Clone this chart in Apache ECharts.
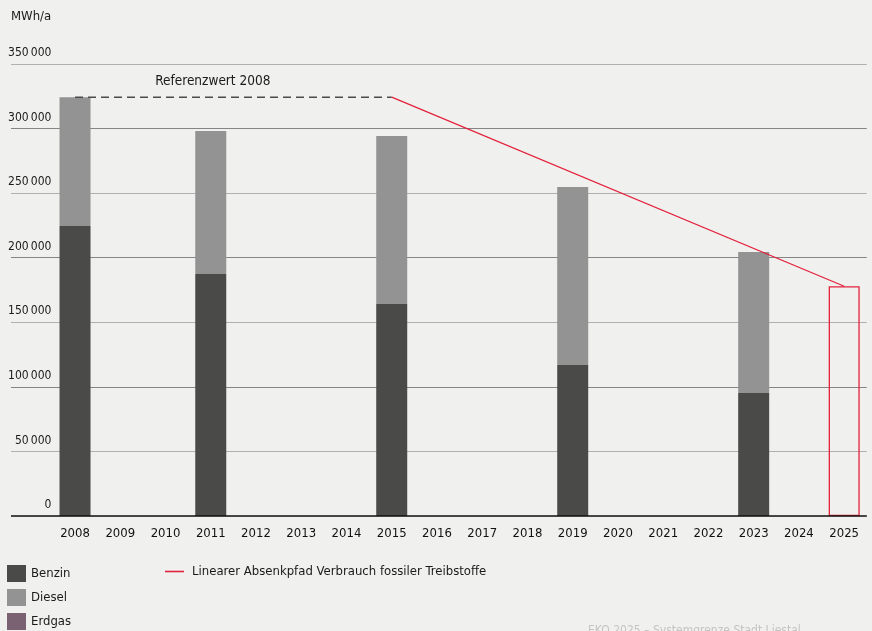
<!DOCTYPE html>
<html>
<head>
<meta charset="utf-8">
<script src="https://cdn.jsdelivr.net/npm/echarts@6/dist/echarts.min.js"></script>
<style>
  html, body { margin: 0; padding: 0; background: #f0f0ee; }
  #chart { width: 872px; height: 631px; }
</style>
</head>
<body>
<div id="chart"></div>
<script>
// Jahre der Kategorienachse
const years = ['2008','2009','2010','2011','2012','2013','2014','2015','2016','2017','2018','2019','2020','2021','2022','2023','2024','2025'];

// Verbrauch in MWh/a (nur Bilanzjahre besetzt)
const benzin = [224500, null, null, 187400, null, null, null, 164200, null, null, null, 116900, null, null, null, 95300, null, null];
const diesel = [99800, null, null, 110700, null, null, null, 130000, null, null, null, 137900, null, null, null, 109100, null, null];
const erdgas = [0, null, null, 0, null, null, null, 0, null, null, null, 0, null, null, null, 0, null, null];

// Referenzwert 2008 und Zielwert 2025
const referenz = [324300, null, null, null, null, null, null, 324300, null, null, null, null, null, null, null, null, null, null];
const absenkpfad = [null, null, null, null, null, null, null, 324300, null, null, null, null, null, null, null, null, null, 177900];
const ziel2025 = [null, null, null, null, null, null, null, null, null, null, null, null, null, null, null, null, null, 177900];

// Beschriftung der Werteachse
const yTicks = [0, 50000, 100000, 150000, 200000, 250000, 300000, 350000];

const FONT = '"Liberation Sans Narrow", "DejaVu Sans Condensed", "Roboto", sans-serif';
const fmt = v => v === 0 ? '0' : String(v).replace(/\B(?=(\d{3})+(?!\d))/g, '\u2009');

const chart = echarts.init(document.getElementById('chart'), null, { renderer: 'canvas' });

const TOP = 64, BOTTOM = 115;

chart.setOption({
  backgroundColor: '#f0f0ee',
  animation: false,
  textStyle: { fontFamily: FONT },
  grid: [
    { left: 52.4, right: 5.2, top: TOP, bottom: BOTTOM },
    { left: 11, right: 5.2, top: TOP, bottom: BOTTOM }
  ],
  xAxis: [
    {
      type: 'category', gridIndex: 0, data: years,
      axisLine: { show: false }, axisTick: { show: false },
      axisLabel: { color: '#111', fontSize: 13, fontFamily: FONT, margin: 11 }
    },
    {
      type: 'value', gridIndex: 1, min: 0, max: 1, show: true,
      axisLine: { show: false }, axisTick: { show: false }, axisLabel: { show: false },
      splitLine: { show: false }
    }
  ],
  yAxis: [
    {
      type: 'value', gridIndex: 0, min: 0, max: 350000, interval: 50000,
      axisLine: { show: false }, axisTick: { show: false },
      splitLine: { show: false },
      axisLabel: {
        color: '#1a1a1a', fontSize: 12, fontFamily: FONT, margin: 1,
        verticalAlign: 'bottom', padding: [0, 0, 5, 0],
        formatter: v => yTicks.includes(v) ? fmt(v) : ''
      }
    },
    {
      type: 'value', gridIndex: 1, min: 0, max: 350000, interval: 50000,
      axisLine: { show: false }, axisTick: { show: false }, axisLabel: { show: false },
      splitLine: { show: true, lineStyle: { color: ['#858585', '#b0b0b0'], width: 1.2 } }
    }
  ],
  legend: [
    {
      left: 7, top: 565, orient: 'vertical', padding: 0, height: 70,
      itemWidth: 19, itemHeight: 17, itemGap: 7,
      icon: 'rect',
      textStyle: { color: '#1a1a1a', fontSize: 13, fontFamily: FONT, padding: [0, 0, 0, 0] },
      data: ['Benzin', 'Diesel', 'Erdgas']
    },
    {
      left: 165, top: 565, padding: 0,
      itemWidth: 19, itemHeight: 17,
      icon: 'path://M0,8 L19,8 L19,9.6 L0,9.6 Z',
      textStyle: { color: '#1a1a1a', fontSize: 13, fontFamily: FONT, padding: [0, 0, 0, 3] },
      data: ['Linearer Absenkpfad Verbrauch fossiler Treibstoffe']
    }
  ],
  series: [
    {
      name: 'Benzin', type: 'bar', stack: 'v', barWidth: 31, data: benzin,
      itemStyle: { color: '#4a4a48' }
    },
    {
      name: 'Diesel', type: 'bar', stack: 'v', barWidth: 31, data: diesel,
      itemStyle: { color: '#939393' }
    },
    {
      name: 'Erdgas', type: 'bar', stack: 'v', barWidth: 31, data: erdgas,
      itemStyle: { color: '#7a6272' }
    },
    {
      name: 'Ziel 2025', type: 'bar', stack: 'v', barWidth: 31, data: ziel2025,
      itemStyle: { color: 'rgba(0,0,0,0)', borderColor: '#e3223c', borderWidth: 1.3 }
    },
    {
      name: 'Referenzwert 2008', type: 'line', data: referenz, connectNulls: true,
      symbol: 'none', z: 5,
      lineStyle: { color: '#4a4a48', width: 1.6, type: [8, 5] },
      markPoint: {
        symbol: 'circle', symbolSize: 0,
        label: {
          show: true, formatter: 'Referenzwert 2008', color: '#1a1a1a',
          fontSize: 13.5, fontFamily: FONT, offset: [2, -16]
        },
        data: [{ coord: ['2011', 324300] }]
      }
    },
    {
      name: 'Linearer Absenkpfad Verbrauch fossiler Treibstoffe', type: 'line',
      data: absenkpfad, connectNulls: true, symbol: 'none', z: 5,
      itemStyle: { color: '#e3223c' },
      lineStyle: { color: '#e3223c', width: 1.3 }
    },
    {
      // Achsenlinie bei 0 über die gesamte Breite
      name: 'Achse', type: 'line', xAxisIndex: 1, yAxisIndex: 1, symbol: 'none',
      data: [[0, 0], [1, 0]], silent: true,
      lineStyle: { color: '#111', width: 1.5 }
    }
  ],
  graphic: [
    {
      type: 'text', left: 11, top: 10,
      style: { text: 'MWh/a', fill: '#1a1a1a', font: '13px ' + FONT }
    },
    {
      type: 'text', left: 588, top: 625,
      style: { text: 'EKO 2025 – Systemgrenze Stadt Liestal', fill: '#c4c4c4', font: '12px ' + FONT }
    }
  ]
});
</script>
</body>
</html>
